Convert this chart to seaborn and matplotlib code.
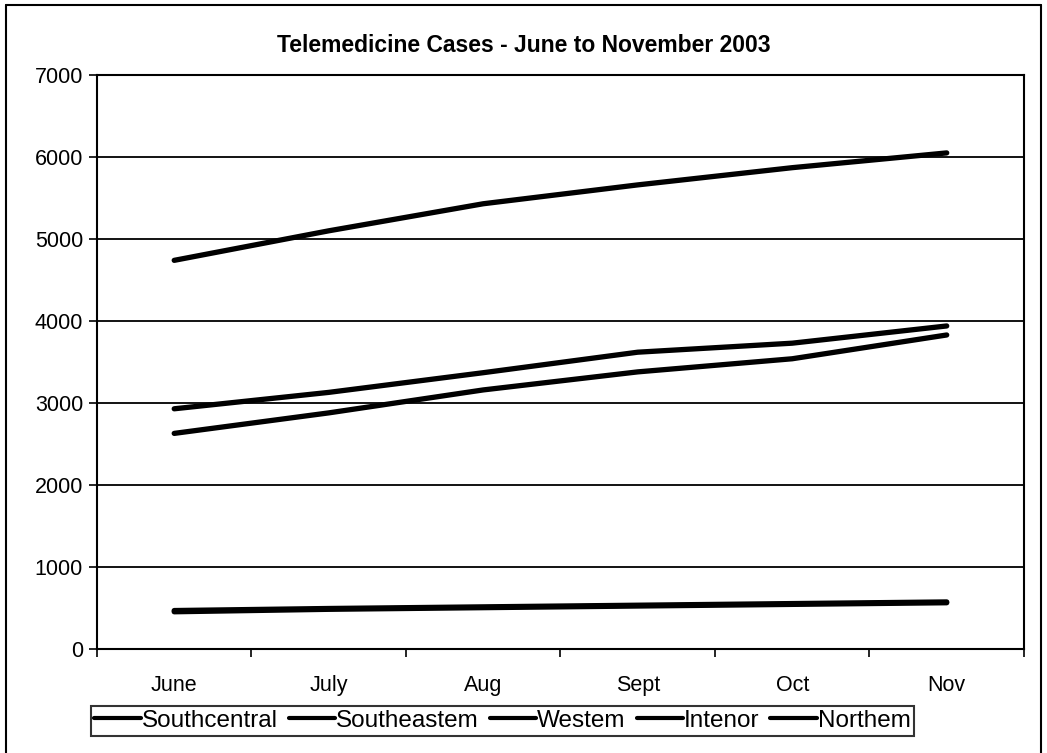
import numpy as np
import pandas as pd
import seaborn as sns
import matplotlib.pyplot as plt
from matplotlib.lines import Line2D


months = ['June', 'July', 'Aug', 'Sept', 'Oct', 'Nov']
regions = ['Southcentral', 'Southeastem', 'Westem', 'Intenor', 'Northem']

southcentral = [4740, 5100, 5430, 5660, 5870, 6050]
southeastern = [2930, 3130, 3370, 3620, 3730, 3940]
western = [2630, 2880, 3160, 3380, 3540, 3830]
interior = [470, 495, 515, 535, 555, 575]
northern = [455, 485, 505, 525, 545, 565]

values = [southcentral, southeastern, western, interior, northern]


def build_frame():
    rows = []
    for region, series in zip(regions, values):
        for i, v in enumerate(series):
            rows.append({'month': i, 'region': region, 'cases': v})
    return pd.DataFrame(rows)


df = build_frame()

sns.set_theme(style='white')
plt.rcParams['font.family'] = ['Liberation Sans', 'DejaVu Sans']
plt.rcParams['text.color'] = 'black'
plt.rcParams['xtick.color'] = 'black'
plt.rcParams['ytick.color'] = 'black'
plt.rcParams['axes.labelcolor'] = 'black'

fig = plt.figure(figsize=(10.47, 7.53), dpi=100)
ax = fig.add_axes([0.0926, 0.138, 0.8854, 0.7624])

sns.lineplot(data=df, x='month', y='cases', hue='region',
             palette=['black'] * len(regions), linewidth=3.8,
             legend=False, ax=ax)

ax.set_xlim(-0.5, len(months) - 0.5)
ax.set_ylim(0, 7000)
ax.set_yticks(range(0, 7001, 1000))
ax.set_yticklabels([str(v) for v in range(0, 7001, 1000)], fontsize=15.5)
ax.set_xticks(range(len(months)))
ax.set_xticklabels(months, fontsize=15.5)
ax.set_xticks(np.arange(-0.5, len(months), 1), minor=True)
ax.tick_params(axis='x', which='major', length=0, pad=19)
ax.tick_params(axis='x', which='minor', length=6, width=1.2,
               direction='out', color='black', bottom=True)
ax.tick_params(axis='y', length=6, width=1.2, direction='out',
               color='black', left=True, pad=4)
ax.set_xlabel('')
ax.set_ylabel('')

ax.yaxis.grid(True, color='black', linewidth=1.3)
ax.xaxis.grid(False)
for s in ax.spines.values():
    s.set_color('black')
    s.set_linewidth(1.5)

fig.suptitle('Telemedicine Cases - June to November 2003',
             x=0.5, y=0.94, va='center', fontsize=16.5, fontweight='bold')

handles = [Line2D([0], [0], color='black', linewidth=3) for _ in regions]
leg = fig.legend(handles, regions, loc='center', ncol=5,
                 bbox_to_anchor=(0.48, 0.0425), fontsize=17.5,
                 frameon=True, fancybox=False, edgecolor='black',
                 handlelength=1.9, handletextpad=0.05, columnspacing=0.45,
                 borderpad=0.15, borderaxespad=0)
leg.get_frame().set_linewidth(1.5)

# outer chart border (left, top, right)
fig.add_artist(Line2D([0.006, 0.006], [0.0, 0.993], color='black', linewidth=1.5))
fig.add_artist(Line2D([0.006, 0.994], [0.993, 0.993], color='black', linewidth=1.5))
fig.add_artist(Line2D([0.994, 0.994], [0.0, 0.993], color='black', linewidth=1.5))

fig.savefig('out.png', dpi=100)
